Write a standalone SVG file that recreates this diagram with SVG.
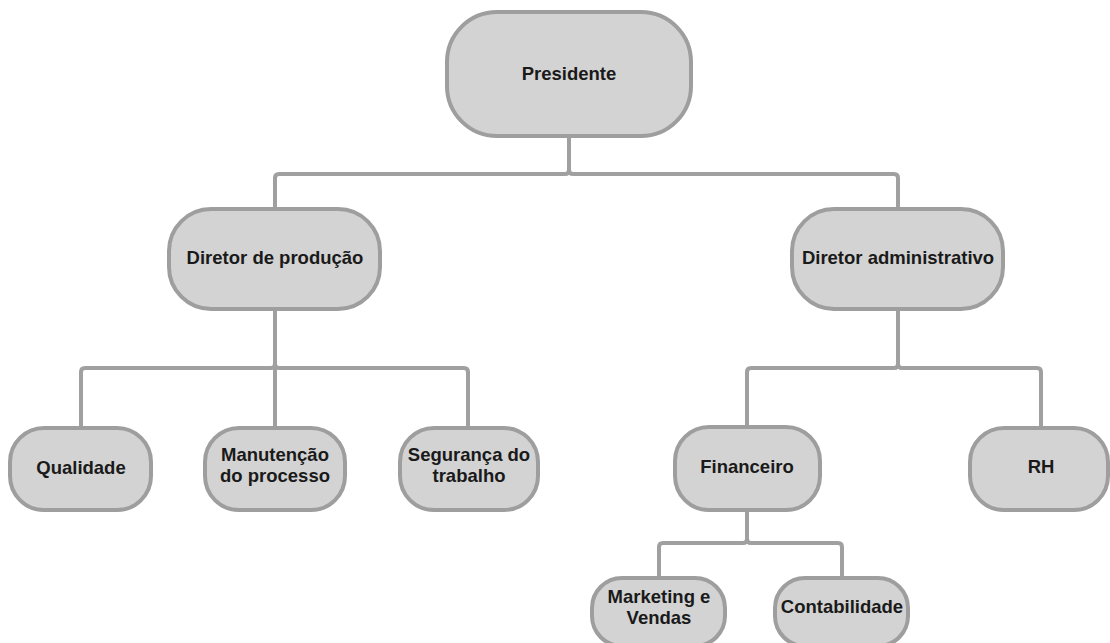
<svg xmlns="http://www.w3.org/2000/svg" width="1110" height="643" viewBox="0 0 1110 643">
<style>
.n{fill:#d3d3d3;stroke:#9e9e9e;stroke-width:4}
.c{fill:none;stroke:#a0a0a0;stroke-width:4;stroke-linejoin:round}
.t{font-family:"Liberation Sans",Arial,sans-serif;font-weight:bold;font-size:18.5px;fill:#1a1a1a;text-anchor:middle}
</style>
<rect width="1110" height="643" fill="#ffffff"/>
<g id="connectors">
<path class="c" d="M569 136 V170 Q569 174 565 174 H279 Q275 174 275 178 V209"/>
<path class="c" d="M569 136 V170 Q569 174 573 174 H894 Q898 174 898 178 V209"/>
<path class="c" d="M275 309 V364 Q275 368 271 368 H85 Q81 368 81 372 V428"/>
<path class="c" d="M275 309 V428"/>
<path class="c" d="M275 309 V364 Q275 368 279 368 H464 Q468 368 468 372 V428"/>
<path class="c" d="M898 309 V364 Q898 368 894 368 H751 Q747 368 747 372 V427"/>
<path class="c" d="M898 309 V364 Q898 368 902 368 H1037 Q1041 368 1041 372 V428"/>
<path class="c" d="M747 510 V539 Q747 543 743 543 H663 Q659 543 659 547 V578"/>
<path class="c" d="M747 510 V539 Q747 543 751 543 H838 Q842 543 842 547 V578"/>
</g>
<g id="presidente">
<rect class="n" x="447" y="12" width="244" height="124" rx="50"/>
<text class="t" x="569" y="80">Presidente</text>
</g>
<g id="diretor-producao">
<rect class="n" x="169" y="209" width="211" height="100" rx="42"/>
<text class="t" x="275" y="264">Diretor de produção</text>
</g>
<g id="diretor-administrativo">
<rect class="n" x="792" y="209" width="211" height="100" rx="42"/>
<text class="t" x="898" y="264">Diretor administrativo</text>
</g>
<g id="qualidade">
<rect class="n" x="10" y="428" width="141" height="82" rx="34"/>
<text class="t" x="81" y="474">Qualidade</text>
</g>
<g id="manutencao">
<rect class="n" x="205" y="428" width="140" height="82" rx="34"/>
<text class="t" x="275" y="461">Manutenção</text>
<text class="t" x="275" y="482">do processo</text>
</g>
<g id="seguranca">
<rect class="n" x="400" y="428" width="138" height="82" rx="34"/>
<text class="t" x="469" y="461">Segurança do</text>
<text class="t" x="469" y="482">trabalho</text>
</g>
<g id="financeiro">
<rect class="n" x="675" y="427" width="145" height="83" rx="34"/>
<text class="t" x="747" y="473">Financeiro</text>
</g>
<g id="rh">
<rect class="n" x="970" y="428" width="138" height="82" rx="34"/>
<text class="t" x="1041" y="473">RH</text>
</g>
<g id="marketing">
<rect class="n" x="592" y="578" width="133" height="68" rx="30"/>
<text class="t" x="659" y="603">Marketing e</text>
<text class="t" x="659" y="624">Vendas</text>
</g>
<g id="contabilidade">
<rect class="n" x="775" y="578" width="133" height="68" rx="30"/>
<text class="t" x="842" y="613">Contabilidade</text>
</g>
</svg>
